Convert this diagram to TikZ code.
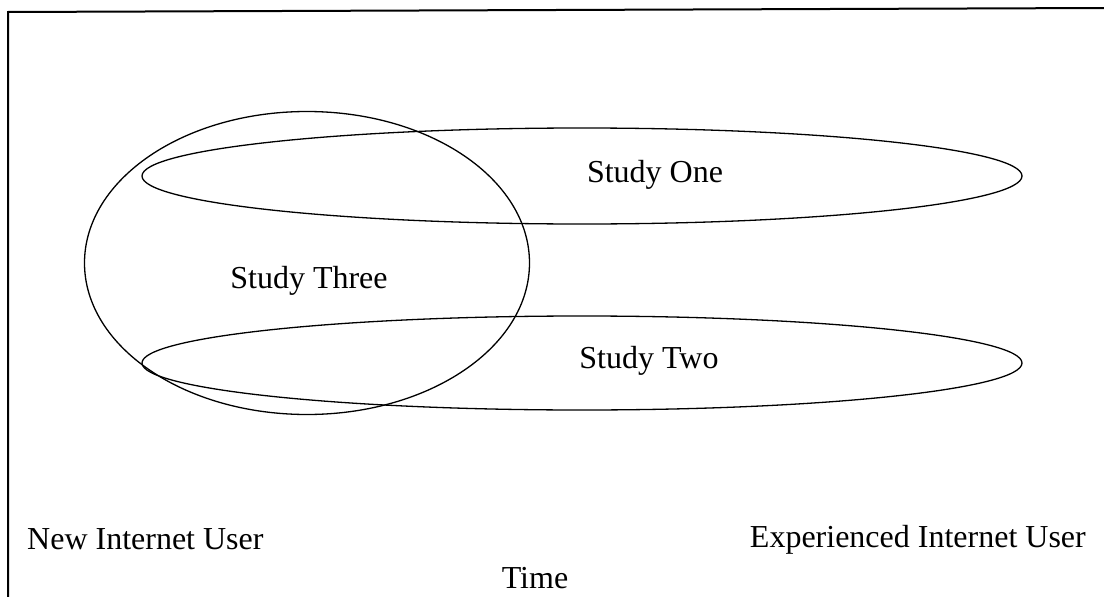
\documentclass[tikz,border=0pt]{standalone}
\usepackage{fontspec}
\setmainfont{Liberation Serif}
\usetikzlibrary{shapes.geometric}
\begin{document}
\begin{tikzpicture}[x=1pt,y=-1pt,
  oval/.style={draw=black,line width=1.3pt,ellipse,inner sep=0pt,minimum width=#1},
  lbl/.style={font=\fontsize{32}{38}\selectfont,inner sep=0pt,anchor=base}]
\useasboundingbox (0,0) rectangle (1104,597);
\draw[line width=2pt] (8,597) -- (8,12) -- (1104,8);
\node[oval=880pt,minimum height=96pt] (one) at (582,176) {};
\node[oval=880pt,minimum height=94pt] (two) at (582,363) {};
\node[oval=445pt,minimum height=303pt] (three) at (307,263) {};
\node[lbl] (tone) at (655,182) {Study One};
\node[lbl] (ttwo) at (649,368) {Study Two};
\node[lbl] (tthree) at (309,288) {Study Three};
\node[lbl,anchor=base west] (new) at (27,549) {New Internet User};
\node[lbl,anchor=base east] (exp) at (1086,547) {Experienced Internet User};
\node[lbl] (time) at (535,588) {Time};
\end{tikzpicture}
\end{document}
